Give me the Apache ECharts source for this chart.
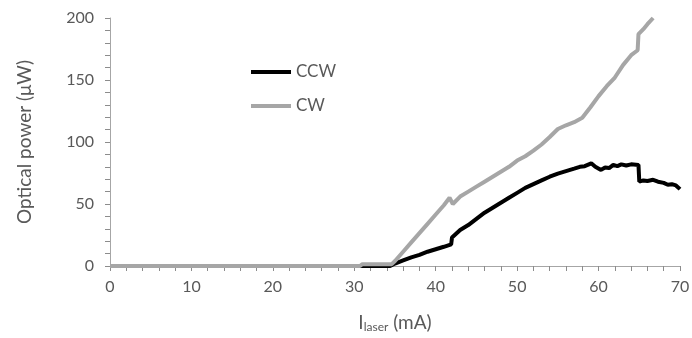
<!DOCTYPE html>
<html>
<head>
<meta charset="utf-8">
<script src="https://cdn.jsdelivr.net/npm/echarts@6/dist/echarts.min.js"></script>
<style>
  html, body { margin: 0; padding: 0; background: #fff; }
  #chart { width: 692px; height: 338px; }
</style>
</head>
<body>
<div id="chart"></div>
<script>
// CCW: black trace
const currentCCW = [0, 34.4, 35, 36, 37, 38, 39, 40, 41, 41.9, 42.0, 42.5, 43, 44, 45, 46, 47, 48, 49, 50,
  51, 52, 53, 54, 55, 56, 57, 57.7, 58.3, 59.1, 59.6, 60.3, 60.8, 61.3, 61.8, 62.3, 62.8, 63.4, 64, 64.9,
  65.0, 65.5, 66, 66.7, 67.3, 68, 68.5, 69, 69.5, 70];
const powerCCW = [0, 0, 2, 4.5, 7, 9, 11.5, 13.5, 15.5, 17.5, 23, 26, 29, 33, 38, 43, 47, 51, 55, 59,
  63, 66, 69, 72, 74.5, 76.5, 78.5, 80, 80.5, 82.8, 80, 77.5, 79.5, 79, 81.5, 80.5, 82, 81, 82, 81.5,
  68, 69, 68.5, 69.5, 68, 67, 65.5, 66, 65, 62];

// CW: grey trace
const currentCW = [0, 30.7, 31, 34.6, 35, 36, 37, 38, 39, 40, 41, 41.7, 42.1, 43, 44, 45, 46, 47, 48, 49,
  50, 51, 52, 53, 54, 55, 56, 57, 58, 59, 60, 61, 62, 63, 64, 64.8, 64.9, 65.5, 66, 66.7];
const powerCW = [0, 0, 1.5, 1.5, 4, 11.5, 19, 26.5, 34, 41.5, 49, 55, 50, 56, 60, 64, 68, 72, 76, 80,
  85, 88.5, 93, 98, 104, 110.5, 113.5, 116, 119.5, 128, 137, 145, 152, 162, 170, 174, 187, 191, 195, 200];

const seriesNames = ['CCW', 'CW'];
// labelled ticks every 10 mA / 50 uW, 5 minor steps between
const xTicks = { min: 0, max: 70, interval: 10, minorSplit: 5 };
const yTicks = { min: 0, max: 200, interval: 50, minorSplit: 5 };

const font = 'Lato, "Liberation Sans", sans-serif';
const textColor = '#595959';
const axisColor = '#a6a6a6';

const zip = (xs, ys) => xs.map((x, i) => [x, ys[i]]);

const tick = () => ({ show: true, length: 5, lineStyle: { color: '#8c8c8c', width: 1 } });

const chart = echarts.init(document.getElementById('chart'));

chart.setOption({
  animation: false,
  textStyle: { fontFamily: font },
  grid: { left: 110, right: 12, top: 18, bottom: 72, outerBoundsMode: 'none' },
  legend: {
    data: seriesNames,
    orient: 'vertical',
    left: 251,
    top: 62,
    padding: 0,
    icon: 'rect',
    itemWidth: 40,
    itemHeight: 4,
    itemGap: 14,
    textStyle: { fontFamily: font, fontSize: 17, lineHeight: 20, color: textColor }
  },
  xAxis: {
    type: 'value',
    min: xTicks.min,
    max: xTicks.max,
    interval: xTicks.interval,
    axisLine: { show: true, lineStyle: { color: axisColor, width: 1 } },
    axisTick: tick(),
    minorTick: Object.assign(tick(), { splitNumber: xTicks.minorSplit }),
    splitLine: { show: false },
    minorSplitLine: { show: false },
    axisLabel: { color: textColor, fontSize: 16, margin: 13, fontFamily: font },
    name: '{a|I}{b|laser}{a| (mA)}',
    nameLocation: 'middle',
    nameGap: 46,
    nameTextStyle: {
      rich: {
        a: { fontSize: 19, color: textColor, fontFamily: font },
        b: { fontSize: 12, color: textColor, fontFamily: font, padding: [9, 0, 0, 0] }
      }
    }
  },
  yAxis: {
    type: 'value',
    min: yTicks.min,
    max: yTicks.max,
    interval: yTicks.interval,
    axisLine: { show: true, lineStyle: { color: axisColor, width: 1 } },
    axisTick: tick(),
    minorTick: Object.assign(tick(), { splitNumber: yTicks.minorSplit }),
    splitLine: { show: false },
    minorSplitLine: { show: false },
    axisLabel: { color: textColor, fontSize: 16, margin: 16, fontFamily: font },
    name: 'Optical power (μW)',
    nameLocation: 'middle',
    nameGap: 76,
    nameTextStyle: { color: textColor, fontSize: 19, fontFamily: font }
  },
  series: [
    {
      name: seriesNames[0],
      type: 'line',
      data: zip(currentCCW, powerCCW),
      showSymbol: false,
      color: '#000000',
      lineStyle: { color: '#000000', width: 4 }
    },
    {
      name: seriesNames[1],
      type: 'line',
      data: zip(currentCW, powerCW),
      showSymbol: false,
      color: '#a6a6a6',
      lineStyle: { color: '#a6a6a6', width: 4 }
    }
  ]
});
</script>
</body>
</html>
